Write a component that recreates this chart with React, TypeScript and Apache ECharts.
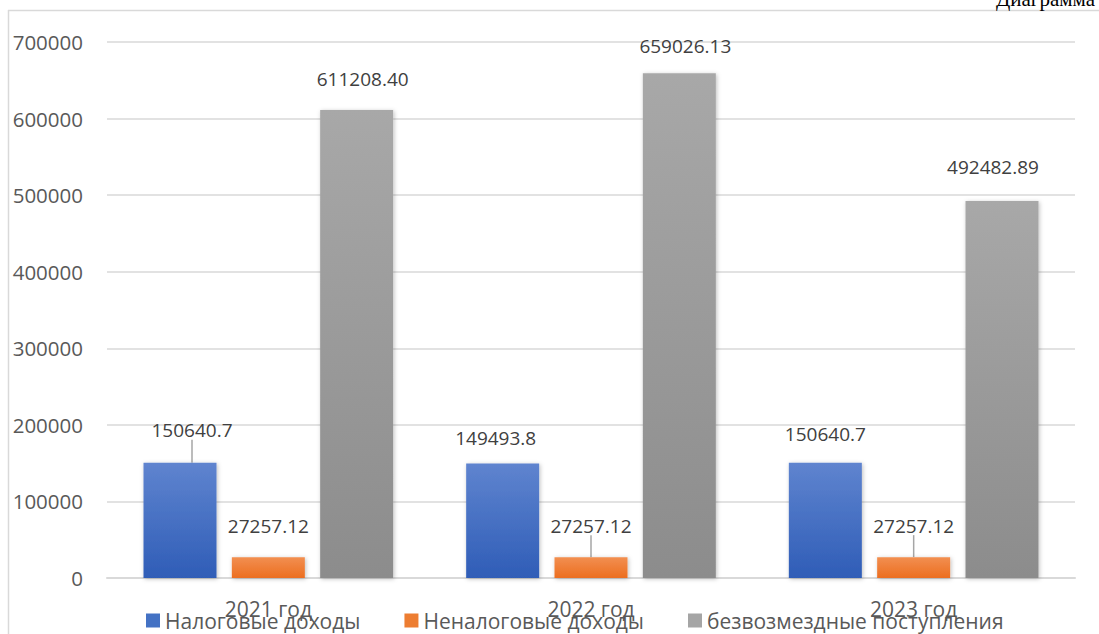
import React, { useEffect, useRef } from "react";
import * as echarts from "echarts";

const categories = ["2021 год", "2022 год", "2023 год"];
const seriesNames = ["Налоговые доходы", "Неналоговые доходы", "безвозмездные поступления"];
const taxIncome = [150640.7, 149493.8, 150640.7];
const taxLabels = ["150640.7", "149493.8", "150640.7"];
const nonTaxIncome = [27257.12, 27257.12, 27257.12];
const nonTaxLabels = ["27257.12", "27257.12", "27257.12"];
const grants = [611208.4, 659026.13, 492482.89];
const grantLabels = ["611208.40", "659026.13", "492482.89"];
const yTicks = { min: 0, max: 700000, interval: 100000 };

const grad = (top: string, bottom: string) =>
  new echarts.graphic.LinearGradient(0, 0, 0, 1, [
    { offset: 0, color: top },
    { offset: 1, color: bottom },
  ]);

// label displacement [dx, dy] per data item, and whether a leader line is shown
const taxShift = [[12, -19, true], [-7, -12, false], [0, -15, false]];
const nonTaxShift = [[0, -18, false], [0, -18, true], [0, -18, true]];
const grantShift = [[6, -17, false], [6, -14, false], [-9, -20, false]];

export default function App() {
  const ref = useRef<HTMLDivElement>(null);
  useEffect(() => {
    if (!ref.current) return;
    const chart = echarts.init(ref.current, null, { renderer: "svg" });
    const font = "'Open Sans', 'Noto Sans', sans-serif";
    const mk = (
      name: string,
      values: number[],
      labels: string[],
      shifts: any[],
      color: any
    ) => ({
      name,
      type: "bar",
      barWidth: 73,
      barGap: "21%",
      itemStyle: {
        color,
        shadowColor: "rgba(0,0,0,0.25)",
        shadowBlur: 4,
        shadowOffsetX: 1,
        shadowOffsetY: 1,
      },
      label: {
        show: true,
        position: "top",
        distance: 4,
        color: "#404040",
        fontSize: 19,
        fontFamily: font,
        formatter: (p: any) => labels[p.dataIndex],
      },
      labelLine: { show: true, lineStyle: { color: "#a6a6a6", width: 1.5 } },
      labelLayout: (p: any) => {
        const s = shifts[p.dataIndex];
        return { dx: s[0], dy: s[1] };
      },
      data: values.map((v, i) => ({
        value: v,
        labelLine: { show: shifts[i][2] },
      })),
    });

    chart.setOption({
      animation: false,
      textStyle: { fontFamily: font },
      grid: { left: 107, right: 24, top: 42, bottom: 56 },
      legend: {
        top: 605,
        left: 141,
        itemWidth: 14,
        itemHeight: 14,
        itemGap: 44,
        icon: "rect",
        textStyle: { color: "#595959", fontSize: 21, fontFamily: font },
        data: seriesNames.map((n, i) => ({
          name: n,
          itemStyle: { color: ["#4472c4", "#ed7d31", "#a5a5a5"][i] },
        })),
      },
      xAxis: {
        type: "category",
        data: categories,
        axisLine: { lineStyle: { color: "#d9d9d9", width: 2 } },
        axisTick: { show: false },
        axisLabel: { color: "#595959", fontSize: 21, margin: 20, fontFamily: font },
      },
      yAxis: {
        type: "value",
        min: yTicks.min,
        max: yTicks.max,
        interval: yTicks.interval,
        axisLine: { show: false },
        axisTick: { show: false },
        axisLabel: {
          color: "#595959",
          fontSize: 20.5,
          margin: 24,
          fontFamily: font,
          formatter: (v: number) => String(v),
        },
        splitLine: { lineStyle: { color: "#d9d9d9", width: 1.5 } },
      },
      graphic: [
        { type: "line", shape: { x1: 8.5, y1: 10, x2: 8.5, y2: 634 }, style: { stroke: "#d9d9d9", lineWidth: 1.5 } },
        { type: "line", shape: { x1: 8, y1: 10.5, x2: 1099, y2: 10.5 }, style: { stroke: "#d9d9d9", lineWidth: 1.5 } },
        {
          type: "text",
          right: 4,
          top: -12,
          style: { text: "Диаграмма", font: "21px 'Liberation Serif', 'DejaVu Serif', serif", fill: "#000" },
        },
      ],
      series: [
        mk(seriesNames[0], taxIncome, taxLabels, taxShift, grad("#5f84cf", "#2f5db7")),
        mk(seriesNames[1], nonTaxIncome, nonTaxLabels, nonTaxShift, grad("#f28f50", "#ec6e20")),
        mk(seriesNames[2], grants, grantLabels, grantShift, grad("#a8a8a8", "#8c8c8c")),
      ],
    });
    return () => chart.dispose();
  }, []);
  return (
    <div
      ref={ref}
      style={{ position: "absolute", left: 0, top: 0, width: 1099, height: 634, background: "#fff" }}
    />
  );
}
